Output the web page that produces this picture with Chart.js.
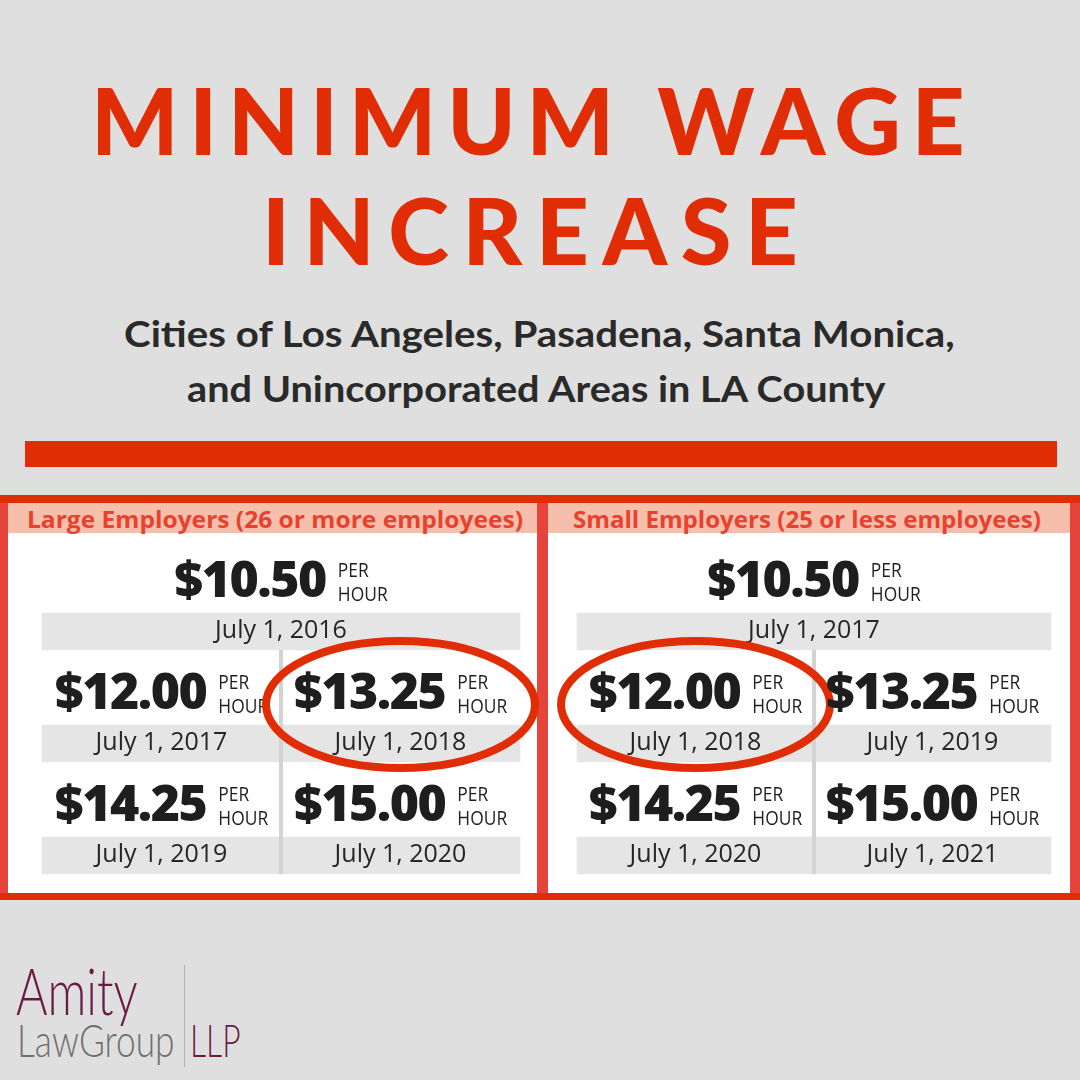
<!DOCTYPE html>
<html>
<head>
<meta charset="utf-8">
<script src="https://cdn.jsdelivr.net/npm/chart.js@4.4.1/dist/chart.umd.min.js"></script>
<style>
  body { margin: 0; background: #dfdfdf; }
  #page { position: relative; width: 1080px; height: 1080px; overflow: hidden; background: #dfdfdf; }
  .txt { position: absolute; white-space: nowrap; transform-origin: 0 0; }
  .title { font-family: Lato; font-weight: 900; font-size: 92px; color: #e02d05; }
  .sub { font-family: Lato; font-weight: 700; font-size: 36px; color: #2a2a2a; }
  .head { font-family: "Open Sans"; font-weight: 700; font-size: 23px; color: #e8412f; }
  .amity { font-family: Lato; font-weight: 300; font-size: 66px; color: #6b1a45; }
  .law { font-family: Lato; font-weight: 300; font-size: 45px; color: #6f6f6f; }
  .llp { font-family: Lato; font-weight: 300; font-size: 45px; color: #6b1a45; }
  .box { position: absolute; }
  .chartbox { position: absolute; top: 533px; height: 360px; }
</style>
</head>
<body>
<div id="page">
  <div class="txt title" id="t1">MINIMUM WAGE</div>
  <div class="txt title" id="t2">INCREASE</div>
  <div class="txt sub" id="s1">Cities of Los Angeles, Pasadena, Santa Monica,</div>
  <div class="txt sub" id="s2">and Unincorporated Areas in LA County</div>
  <div class="box" style="left:25px;top:441px;width:1032px;height:26px;background:#e02d05"></div>

  <!-- frame of the two panels -->
  <div class="box" style="left:0;top:495px;width:1080px;height:405px;background:#e6433a"></div>
  <div class="box" style="left:0;top:495px;width:1080px;height:8px;background:#e02d05"></div>
  <div class="box" style="left:0;top:893px;width:1080px;height:7px;background:#e02d05"></div>
  <div class="box" style="left:8px;top:503px;width:529px;height:390px;background:#fff"></div>
  <div class="box" style="left:548px;top:503px;width:522px;height:390px;background:#fff"></div>
  <div class="box" style="left:8px;top:503px;width:529px;height:30px;background:#f6bfac"></div>
  <div class="box" style="left:548px;top:503px;width:522px;height:30px;background:#f6bfac"></div>
  <div class="txt head" id="h1">Large Employers (26 or more employees)</div>
  <div class="txt head" id="h2">Small Employers (25 or less employees)</div>

  <div class="chartbox" style="left:0;width:548px"><canvas id="large"></canvas></div>
  <div class="chartbox" style="left:537px;width:543px"><canvas id="small"></canvas></div>

  <!-- logo -->
  <div class="txt amity" id="l1">Amity</div>
  <div class="txt law" id="l2">LawGroup</div>
  <div class="box" style="left:184px;top:965px;width:1px;height:102px;background:#b4b4b4"></div>
  <div class="txt llp" id="l3">LLP</div>
</div>
<script>
// data
const rowNames = ['step 1', 'steps 2-3', 'steps 4-5'];
const largeWages = [10.50, 12.00, 13.25, 14.25, 15.00];
const largeDates = ['July 1, 2016', 'July 1, 2017', 'July 1, 2018', 'July 1, 2019', 'July 1, 2020'];
const smallWages = [10.50, 12.00, 13.25, 14.25, 15.00];
const smallDates = ['July 1, 2017', 'July 1, 2018', 'July 1, 2019', 'July 1, 2020', 'July 1, 2021'];
const circledDate = 'July 1, 2018';

// put a text line so its ink starts at x, sits on baseline and is w wide
const meas = document.createElement('canvas').getContext('2d');
function place(id, x, baseline, w, mode) {
  const el = document.getElementById(id);
  const cs = getComputedStyle(el);
  const size = parseFloat(cs.fontSize);
  meas.font = cs.fontWeight + ' ' + cs.fontSize + ' ' + cs.fontFamily;
  const m = meas.measureText(el.textContent);
  const inkW = m.actualBoundingBoxLeft + m.actualBoundingBoxRight;
  const A = m.fontBoundingBoxAscent, D = m.fontBoundingBoxDescent;
  el.style.lineHeight = size + 'px';
  el.style.top = (baseline - ((size - A - D) / 2 + A)) + 'px';
  let sx = 1;
  if (mode === 'track') {
    el.style.letterSpacing = (w - inkW) / (el.textContent.length - 1) + 'px';
  } else {
    sx = w / inkW;
    el.style.transform = 'scaleX(' + sx + ')';
  }
  el.style.left = (x + m.actualBoundingBoxLeft * sx) + 'px';
}

place('t1', 97, 155, 865, 'track');
place('t2', 268, 265, 527, 'track');
place('s1', 125, 347, 830, 'scale');
place('s2', 187, 402, 701, 'scale');
place('h1', 29, 528, 493, 'scale');
place('h2', 574, 528, 466, 'scale');
place('l1', 16, 1015, 121, 'scale');
place('l2', 20, 1057, 153, 'scale');
place('l3', 193, 1057, 47, 'scale');

function makeChart(id, wages, dates, pad) {
  // first step spans both columns, the rest fill two columns per row
  const cells = wages.map((w, i) => {
    const col = (i - 1) % 2;
    return {
      x: i === 0 ? [0, 2] : [col, col + 1],
      y: rowNames[i === 0 ? 0 : Math.ceil(i / 2)]
    };
  });
  const circled = dates.indexOf(circledDate);

  const wageCells = {
    id: 'wageCells',
    afterDatasetsDraw(chart) {
      const ctx = chart.ctx;
      const bars = chart.getDatasetMeta(0).data;
      const xs = chart.scales.x;
      const b0 = bars[0].getProps(['y', 'height'], true);
      const bl = bars[bars.length - 1].getProps(['y', 'height'], true);
      ctx.save();
      ctx.fillStyle = '#d3d3d3';
      const yTop = b0.y + b0.height / 2;
      ctx.fillRect(xs.getPixelForValue(1) - 2, yTop, 4, bl.y + bl.height / 2 - yTop);

      bars.forEach((bar, i) => {
        const p = bar.getProps(['x', 'y', 'base', 'height'], true);
        const cx = (p.x + p.base) / 2;
        const top = p.y - p.height / 2;

        ctx.textBaseline = 'alphabetic';
        ctx.textAlign = 'center';
        ctx.fillStyle = '#262626';
        ctx.font = '25px "Open Sans"';
        ctx.fillText(dates[i], cx, p.y + 6.5);

        const wage = '$' + wages[i].toFixed(2);
        ctx.font = '800 50px "Open Sans"';
        ctx.letterSpacing = '-1.5px';
        const w1 = ctx.measureText(wage).width;
        ctx.letterSpacing = '0px';
        ctx.font = '20px "Open Sans"';
        const w2 = ctx.measureText('HOUR').width * 0.87;
        const left = cx - (w1 + 12 + w2) / 2;
        const base = top - 16;
        ctx.textAlign = 'left';
        ctx.fillStyle = '#1e1e1e';
        ctx.save();
        ctx.translate(left + w1 + 12, base);
        ctx.scale(0.87, 1);
        ctx.fillText('PER', 0, -20);
        ctx.fillText('HOUR', 0, 4);
        ctx.restore();
        ctx.font = '800 50px "Open Sans"';
        ctx.letterSpacing = '-1.5px';
        ctx.fillText(wage, left, base);
        ctx.letterSpacing = '0px';

        if (i === circled) {
          ctx.strokeStyle = '#e02d05';
          ctx.lineWidth = 8;
          ctx.beginPath();
          ctx.ellipse(cx, p.y - 39, 134.5, 63.5, 0, 0, Math.PI * 2);
          ctx.stroke();
        }
      });
      ctx.restore();
    }
  };

  return new Chart(document.getElementById(id), {
    type: 'bar',
    data: {
      labels: rowNames,
      datasets: [{
        data: cells,
        backgroundColor: '#e5e5e5',
        borderWidth: 0,
        barThickness: 37,
        clip: false
      }]
    },
    options: {
      indexAxis: 'y',
      responsive: true,
      maintainAspectRatio: false,
      animation: false,
      layout: { padding: pad },
      scales: {
        x: { type: 'linear', min: 0, max: 2, display: false },
        y: { type: 'category', offset: false, display: false }
      },
      plugins: { legend: { display: false }, tooltip: { enabled: false } }
    },
    plugins: [wageCells]
  });
}

makeChart('large', largeWages, largeDates, { top: 98.5, bottom: 37.5, left: 42, right: 28 });
makeChart('small', smallWages, smallDates, { top: 98.5, bottom: 37.5, left: 40, right: 29 });
</script>
</body>
</html>
